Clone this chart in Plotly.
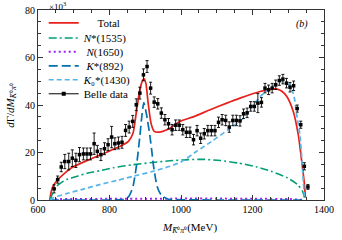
import plotly.graph_objects as go

# ---- Belle data (x10^3) ----
data_x = [645, 655, 665, 675, 686, 696, 706, 716, 727, 737, 747, 757, 766, 776, 786, 796,
          806, 815, 825, 835, 845, 855, 865, 875, 885, 895, 905, 915, 925, 935, 945, 955,
          965, 975, 985, 995, 1005, 1015, 1025, 1035, 1045, 1055, 1065, 1075, 1085, 1095,
          1105, 1115, 1125, 1135, 1145, 1155, 1165, 1175, 1185, 1195, 1205, 1215, 1225,
          1235, 1245, 1255, 1265, 1275, 1285, 1295, 1305, 1315, 1325, 1335, 1345, 1355]
data_y = [4.7, 8.6, 13.9, 16.2, 16.2, 17.6, 16.7, 19.1, 19.4, 19.4, 19.4, 23.7, 20.5, 19.1, 21.6, 23.3,
          26.5, 23.7, 24.0, 24.3, 29.3, 30.7, 33.1, 40.1, 45.0, 52.7, 56.2, 47.1, 41.2, 40.5, 36.6, 33.8,
          32.1, 29.6, 31.5, 31.5, 29.6, 28.5, 28.5, 25.4, 29.2, 26.0, 27.9, 29.2, 29.2, 29.2,
          32.7, 33.8, 33.5, 30.7, 33.5, 33.5, 33.3, 36.3, 36.7, 39.4, 39.4, 40.8, 41.1,
          47.1, 46.4, 47.1, 48.5, 50.3, 50.9, 49.2, 47.5, 48.1, 38.5, 31.7, 14.2, 5.5]
data_err = [1.7, 1.5, 2.0, 3.0, 3.5, 3.5, 3.0, 3.0, 2.5, 2.5, 2.5, 4.5, 2.5, 2.5, 2.5, 2.5,
            4.5, 2.5, 2.5, 2.5, 2.5, 2.5, 2.5, 2.5, 2.5, 2.5, 2.5, 2.5, 2.2, 2.2, 2.2, 2.2,
            2.2, 2.2, 2.2, 2.2, 2.2, 2.2, 2.2, 2.2, 2.2, 2.2, 2.2, 2.2, 2.2, 2.2,
            2.2, 2.2, 2.2, 2.2, 2.2, 2.2, 2.2, 2.0, 2.0, 2.0, 2.0, 4.0, 2.0,
            2.0, 2.0, 2.0, 2.0, 2.0, 2.0, 2.0, 2.0, 2.0, 1.5, 1.5, 1.5, 1.0]

# ---- Model curves ----
total_x = [633, 637, 642, 652, 671, 693, 740, 787, 825, 853, 866, 876, 885, 893, 897, 902,
           908, 916, 925, 941, 965, 997, 1034, 1080, 1128, 1165, 1221, 1258, 1267, 1282,
           1296, 1314, 1328, 1338, 1345, 1348]
total_y = [0, 3.5, 5.8, 8.0, 10.8, 13.5, 16.8, 19.8, 22.3, 24.7, 28.2, 38.0, 46.4, 50.5, 51.0, 49.0,
           41.0, 32.4, 28.9, 28.6, 29.9, 33.1, 35.0, 37.9, 40.8, 42.9, 45.7, 46.8, 46.8, 45.8,
           43.6, 37.3, 27.5, 16.0, 7.0, 1.0]

nstar_x = [634, 640, 652, 665, 680, 710, 740, 773, 810, 867, 920, 969, 1020, 1065, 1110,
           1159, 1210, 1252, 1298, 1326, 1340, 1346]
nstar_y = [0, 2.5, 5.8, 7.3, 8.6, 10.0, 11.4, 12.3, 13.6, 14.9, 15.8, 16.5, 17.0, 17.1, 16.6,
           15.6, 14.0, 12.1, 9.3, 6.5, 3.7, 0.5]

n1650_x = [634, 645, 700, 800, 900, 1000, 1100, 1200, 1300, 1345]
n1650_y = [0, 0.3, 0.4, 0.5, 0.5, 0.6, 0.6, 0.5, 0.4, 0.0]

kstar_x = [633, 800, 840, 853, 862, 867, 876, 885, 891, 896, 901, 907, 913, 918, 923, 930,
           936, 945, 955, 965, 1000, 1100, 1200, 1347]
kstar_y = [0, 0, 0.3, 1.3, 4.0, 6.5, 15.0, 27.0, 36.0, 41.0, 38.0, 33.0, 27.0, 21.0, 14.5, 8.0,
           4.5, 2.0, 1.0, 0.3, 0.1, 0, 0, 0]

k0_x = [634, 643, 680, 725, 773, 820, 867, 920, 969, 1000, 1044, 1086, 1132, 1170, 1195,
        1221, 1249, 1277, 1296, 1314, 1323, 1333, 1340, 1345]
k0_y = [0, 0.9, 2.7, 4.5, 6.5, 8.2, 10.0, 12.0, 14.2, 16.0, 20.5, 24.7, 29.6, 33.8, 38.5,
        43.5, 47.1, 49.9, 49.2, 45.0, 36.6, 26.8, 12.8, 1.6]

x_ticks = [600, 800, 1000, 1200, 1400]
y_ticks = [0, 20, 40, 60, 80]

FONT = "Liberation Serif"
NB = "\u00a0"

fig = go.Figure()

fig.add_trace(go.Scatter(x=total_x, y=total_y, mode="lines", name=NB * 5 + "Total",
                         legend="legend",
                         line=dict(color="#e8201c", width=1.7, shape="spline", smoothing=0.6)))
fig.add_trace(go.Scatter(x=nstar_x, y=nstar_y, mode="lines", name="<i>N</i>*(1535)",
                         legend="legend2",
                         line=dict(color="#009e73", width=1.6, dash="8px,3px,2px,3px",
                                   shape="spline", smoothing=0.6)))
fig.add_trace(go.Scatter(x=n1650_x, y=n1650_y, mode="lines", name=NB + "<i>N</i>(1650)",
                         legend="legend3",
                         line=dict(color="#a020f0", width=2, dash="2px,3px",
                                   shape="spline", smoothing=0.6)))
fig.add_trace(go.Scatter(x=kstar_x, y=kstar_y, mode="lines", name=NB + "<i>K</i>*(892)",
                         legend="legend4",
                         line=dict(color="#0072b2", width=1.7, dash="9px,4px",
                                   shape="spline", smoothing=0.6)))
fig.add_trace(go.Scatter(x=k0_x, y=k0_y, mode="lines", name="<i>K</i>₀*(1430)",
                         legend="legend5",
                         line=dict(color="#56b4e9", width=1.7, dash="5px,3px",
                                   shape="spline", smoothing=0.6)))
fig.add_trace(go.Scatter(x=data_x, y=data_y, mode="markers", showlegend=False,
                         marker=dict(symbol="square", size=3.5, color="black"),
                         error_y=dict(type="data", array=data_err, color="black",
                                      thickness=0.9, width=1.5)))
fig.add_trace(go.Scatter(x=[None], y=[None], mode="lines+markers", name="Belle data",
                         legend="legend6",
                         line=dict(color="black", width=1),
                         marker=dict(symbol="square", size=4, color="black")))

axis_common = dict(showline=True, linecolor="#333", linewidth=1, mirror="allticks",
                   ticks="inside", ticklen=5, tickcolor="#333", showgrid=False, zeroline=False,
                   automargin=False,
                   tickfont=dict(family=FONT, size=10, color="black"))

fig.update_xaxes(range=[600, 1400], tickvals=x_ticks,
                 minor=dict(dtick=50, ticklen=3, ticks="inside", tickcolor="#333"),
                 **axis_common)
fig.update_yaxes(range=[0, 80], tickvals=y_ticks,
                 minor=dict(dtick=5, ticklen=3, ticks="inside", tickcolor="#333"),
                 **axis_common)

# axis titles
fig.add_annotation(text="<i>M</i><sub><i>K̄</i>⁰<i>π</i>⁰</sub>(MeV)", xref="paper", yref="paper",
                   x=0.53, y=-0.145, showarrow=False, xanchor="center", yanchor="middle",
                   font=dict(family=FONT, size=11, color="black"))
fig.add_annotation(text="<i>d</i>Γ/<i>dM</i><sub><i>K̄</i>⁰<i>π</i>⁰</sub>", xref="paper", yref="paper",
                   x=-0.095, y=0.5, showarrow=False, textangle=-90, xanchor="center", yanchor="middle",
                   font=dict(family=FONT, size=11, color="black"))

fig.add_annotation(text="×10<sup>3</sup>", xref="paper", yref="paper", x=0.03, y=1.022,
                   xanchor="left", yanchor="middle", showarrow=False,
                   font=dict(family=FONT, size=9, color="black"))
fig.add_annotation(text="<i>(b)</i>", xref="x", yref="y", x=1338, y=74,
                   showarrow=False, font=dict(family=FONT, size=10, color="black"))

leg_common = dict(x=0.02, xanchor="left", yanchor="middle", bgcolor="rgba(0,0,0,0)",
                  font=dict(family=FONT, size=11, color="black"), itemwidth=30,
                  borderwidth=0)
leg_y = [0.932, 0.853, 0.780, 0.706, 0.633, 0.559]

fig.update_layout(
    width=342, height=240,
    margin=dict(l=38, r=18, t=10, b=40, autoexpand=False),
    paper_bgcolor="white", plot_bgcolor="white",
    font=dict(family=FONT, size=10, color="black"),
    legend=dict(y=leg_y[0], **leg_common),
    legend2=dict(y=leg_y[1], **leg_common),
    legend3=dict(y=leg_y[2], **leg_common),
    legend4=dict(y=leg_y[3], **leg_common),
    legend5=dict(y=leg_y[4], **leg_common),
    legend6=dict(y=leg_y[5], **leg_common),
)

fig.write_html("out.html", config={"displayModeBar": False},
               post_script="document.body.style.margin='0px';document.body.style.padding='0px';")
